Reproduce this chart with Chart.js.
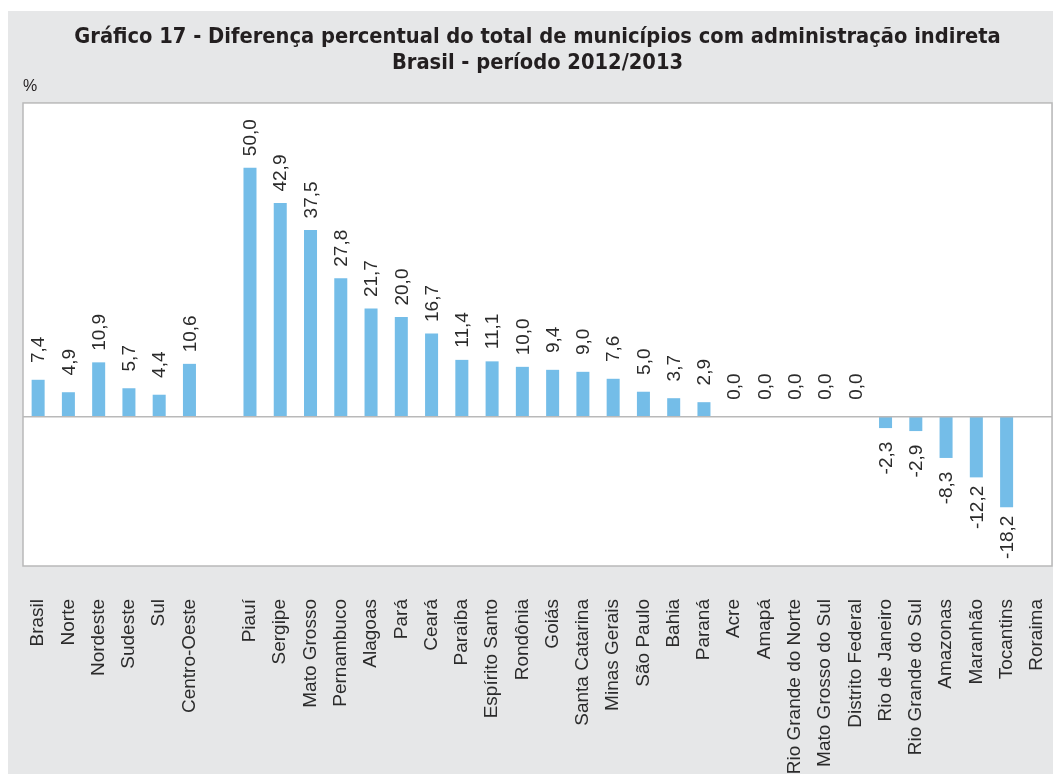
<!DOCTYPE html>
<html>
<head>
<meta charset="utf-8">
<script src="https://cdn.jsdelivr.net/npm/chart.js@4"></script>
<style>
  html, body { margin: 0; padding: 0; background: #ffffff; }
  #wrap { position: absolute; left: 8px; top: 11px; width: 1045px; height: 763px; background: #e6e7e8; }
  canvas { display: block; }
</style>
</head>
<body>
<div id="wrap"><canvas id="c" width="1045" height="763"></canvas></div>
<script>
const categories = ['Brasil','Norte','Nordeste','Sudeste','Sul','Centro-Oeste','',
  'Piauí','Sergipe','Mato Grosso','Pernambuco','Alagoas','Pará','Ceará','Paraíba',
  'Espírito Santo','Rondônia','Goiás','Santa Catarina','Minas Gerais','São Paulo',
  'Bahia','Paraná','Acre','Amapá','Rio Grande do Norte','Mato Grosso do Sul',
  'Distrito Federal','Rio de Janeiro','Rio Grande do Sul','Amazonas','Maranhão',
  'Tocantins','Roraima'];
const values = [7.4, 4.9, 10.9, 5.7, 4.4, 10.6, null,
  50.0, 42.9, 37.5, 27.8, 21.7, 20.0, 16.7, 11.4,
  11.1, 10.0, 9.4, 9.0, 7.6, 5.0,
  3.7, 2.9, 0.0, 0.0, 0.0, 0.0,
  0.0, -2.3, -2.9, -8.3, -12.2,
  -18.2, null];
const titleLines = ['Gráfico 17 - Diferença percentual do total de municípios com administração indireta',
  'Brasil - período 2012/2013'];
const unitLabel = '%';

const plotBox = {
  id: 'plotBox',
  beforeDraw(chart) {
    const a = chart.chartArea, ctx = chart.ctx;
    ctx.save();
    ctx.fillStyle = '#ffffff';
    ctx.fillRect(a.left, a.top, a.right - a.left, a.bottom - a.top);
    ctx.restore();
  },
  afterDatasetsDraw(chart) {
    const a = chart.chartArea, ctx = chart.ctx;
    const y0 = chart.scales.y.getPixelForValue(0);
    ctx.save();
    ctx.strokeStyle = '#b9b9b9';
    ctx.lineWidth = 1.5;
    ctx.beginPath();
    ctx.moveTo(a.left, y0); ctx.lineTo(a.right, y0);
    ctx.stroke();
    ctx.strokeRect(a.left, a.top, a.right - a.left, a.bottom - a.top);
    // value labels
    const meta = chart.getDatasetMeta(0);
    ctx.fillStyle = '#2b2b2b';
    ctx.font = '19px "Liberation Sans", Arial, sans-serif';
    ctx.textAlign = 'center';
    ctx.textBaseline = 'middle';
    meta.data.forEach((bar, i) => {
      const v = values[i];
      if (v === null || v === undefined) return;
      const txt = v.toFixed(1).replace('.', ',');
      const y = v >= 0 ? bar.y - 30 : bar.y + 30;
      ctx.save();
      ctx.translate(bar.x, y);
      ctx.rotate(-Math.PI / 2);
      ctx.fillText(txt, 0, 1);
      ctx.restore();
    });
    ctx.restore();
  }
};

new Chart(document.getElementById('c'), {
  type: 'bar',
  data: {
    labels: categories,
    datasets: [{
      data: values,
      backgroundColor: '#74bde8',
      borderWidth: 0,
      barPercentage: 0.43,
      categoryPercentage: 1.0
    }]
  },
  options: {
    responsive: false,
    animation: false,
    events: [],
    layout: { padding: { left: 15, right: 1, top: 0, bottom: 0 } },
    plugins: {
      legend: { display: false },
      tooltip: { enabled: false },
      title: {
        display: true,
        text: titleLines,
        color: '#231f20',
        font: { family: '"Liberation Sans Narrow", "DejaVu Sans Condensed", Arial, sans-serif', size: 21.7, weight: 'bold', lineHeight: 1.22 },
        padding: { top: 13, bottom: 0 }
      },
      subtitle: {
        display: true,
        text: unitLabel,
        align: 'start',
        color: '#231f20',
        font: { family: '"Liberation Sans", Arial, sans-serif', size: 16, lineHeight: 1.2 },
        padding: { top: 0, bottom: 6.8 }
      }
    },
    scales: {
      x: {
        grid: { display: false },
        border: { display: false },
        ticks: {
          autoSkip: false,
          maxRotation: 90,
          minRotation: 90,
          padding: 25,
          color: '#2b2b2b',
          font: { family: '"Liberation Sans", Arial, sans-serif', size: 19 }
        },
        afterFit(scale) { scale.height = 208; scale.paddingLeft = 0; scale.paddingRight = 0; }
      },
      y: {
        display: false,
        min: -30,
        max: 63
      }
    }
  },
  plugins: [plotBox]
});
</script>
</body>
</html>
